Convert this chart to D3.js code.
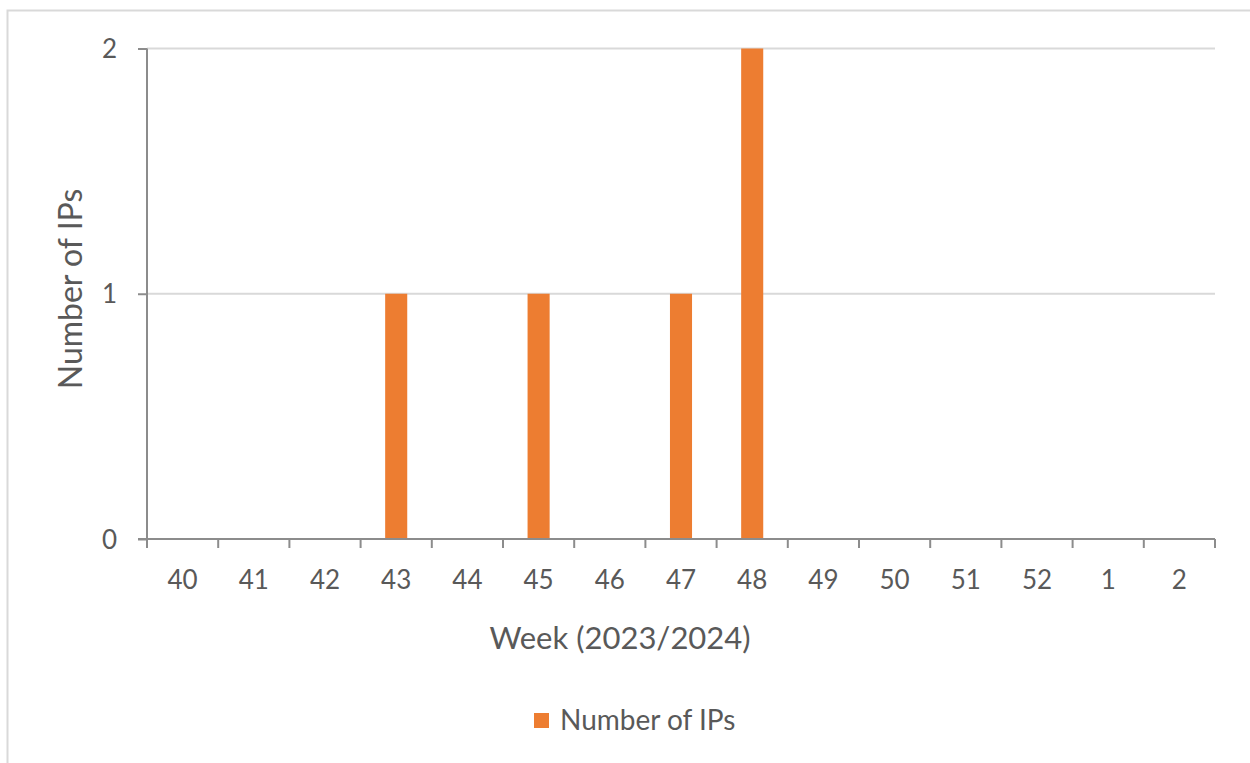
<!DOCTYPE html>
<html lang="en">
<head>
<meta charset="utf-8">
<title>Number of IPs per week</title>
<script src="https://cdn.jsdelivr.net/npm/d3@7"></script>
<style>
  body { margin: 0; background: #fff; }
  text { font-family: Lato, "Open Sans", sans-serif; fill: #595959; }
</style>
</head>
<body>
<script>
"use strict";

// data
const weeks = ["40", "41", "42", "43", "44", "45", "46", "47", "48", "49", "50", "51", "52", "1", "2"];
const ips = [0, 0, 0, 1, 0, 1, 0, 1, 2, 0, 0, 0, 0, 0, 0];
const yTicks = [0, 1, 2];
const seriesName = "Number of IPs";
const xTitle = "Week (2023/2024)";
const yTitle = "Number of IPs";

const W = 1250, H = 763;
const plotL = 147, plotR = 1215, plotT = 48.5, plotB = 539;

const svg = d3.select("body").append("svg")
    .attr("width", W)
    .attr("height", H);

// outer chart border
svg.append("rect")
    .attr("x", 7.5).attr("y", 10.5)
    .attr("width", W + 20).attr("height", H + 20)
    .attr("fill", "none")
    .attr("stroke", "#d9d9d9")
    .attr("stroke-width", 2);

const x = d3.scaleBand()
    .domain(weeks)
    .range([plotL, plotR])
    .paddingInner(0.69)
    .paddingOuter(0.345);

const xEdge = d3.scaleLinear().domain([0, weeks.length]).range([plotL, plotR]);

const y = d3.scaleLinear()
    .domain([0, 2])
    .range([plotB, plotT]);

// gridlines
svg.append("g")
    .selectAll("line")
    .data(yTicks.filter(d => d > 0))
    .enter()
    .append("line")
    .attr("x1", plotL).attr("x2", plotR)
    .attr("y1", d => y(d)).attr("y2", d => y(d))
    .attr("stroke", "#d9d9d9")
    .attr("stroke-width", 2);

// bars
svg.append("g")
    .selectAll("rect")
    .data(ips)
    .enter()
    .append("rect")
    .attr("x", (d, i) => x(weeks[i]))
    .attr("width", x.bandwidth())
    .attr("y", d => y(d))
    .attr("height", d => plotB - y(d))
    .attr("fill", "#ed7d31");

// y axis
const yAxis = svg.append("g")
    .attr("transform", "translate(" + plotL + ",0)")
    .call(d3.axisLeft(y).tickValues(yTicks).tickFormat(d3.format("d")).tickSize(9).tickPadding(21));
yAxis.select(".domain").attr("stroke", "#8c8c8c").attr("stroke-width", 2).attr("d", "M0," + plotT + "V" + plotB);
yAxis.selectAll(".tick line").attr("stroke", "#8c8c8c").attr("stroke-width", 2);
yAxis.selectAll(".tick text").style("font-size", "26px").attr("fill", "#595959").attr("dy", "0.35em");

// x axis (ticks between categories)
const xg = svg.append("g").attr("transform", "translate(0," + plotB + ")");
xg.append("line")
    .attr("x1", plotL - 9).attr("x2", plotR)
    .attr("stroke", "#8c8c8c").attr("stroke-width", 2);
xg.selectAll(".xtick")
    .data(d3.range(weeks.length + 1))
    .enter()
    .append("line")
    .attr("class", "xtick")
    .attr("x1", d => xEdge(d)).attr("x2", d => xEdge(d))
    .attr("y1", 0).attr("y2", 9)
    .attr("stroke", "#8c8c8c").attr("stroke-width", 2);
xg.selectAll(".xlabel")
    .data(weeks)
    .enter()
    .append("text")
    .attr("class", "xlabel")
    .attr("x", d => x(d) + x.bandwidth() / 2)
    .attr("y", 50)
    .attr("text-anchor", "middle")
    .style("font-size", "26px")
    .text(d => d);

// axis titles
svg.append("text")
    .attr("x", 620)
    .attr("y", 649)
    .attr("text-anchor", "middle")
    .style("font-size", "31px")
    .text(xTitle);

svg.append("text")
    .attr("transform", "translate(82,289) rotate(-90)")
    .attr("text-anchor", "middle")
    .style("font-size", "32px")
    .text(yTitle);

// legend
const lg = svg.append("g").attr("transform", "translate(534,713)");
lg.append("rect")
    .attr("width", 15).attr("height", 15)
    .attr("fill", "#ed7d31");
lg.append("text")
    .attr("x", 26).attr("y", 17)
    .style("font-size", "28px")
    .text(seriesName);
</script>
</body>
</html>
